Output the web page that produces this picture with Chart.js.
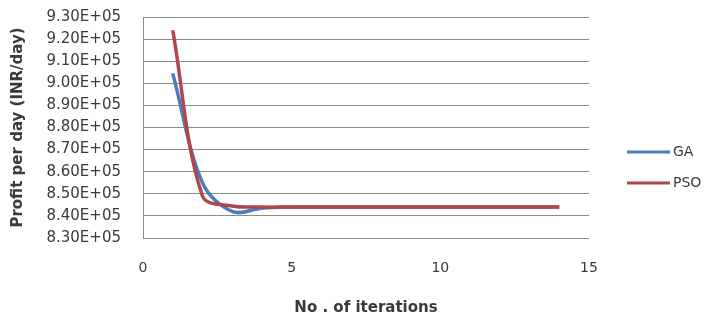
<!DOCTYPE html>
<html>
<head>
<meta charset="utf-8">
<script src="https://cdn.jsdelivr.net/npm/chart.js@4"></script>
<style>
  html, body { margin: 0; padding: 0; background: #fff; }
  #wrap { width: 706px; height: 313px; }
</style>
</head>
<body>
<div id="wrap"><canvas id="chart" width="706" height="313"></canvas></div>
<script>
'use strict';

// valores
const iterations = [1, 2, 3, 4, 5, 6, 7, 8, 9, 10, 11, 12, 13, 14];
const gaProfit = [904500, 855000, 842000, 843500, 844000, 844000, 844000, 844000, 844000, 844000, 844000, 844000, 844000, 844000];
const psoProfit = [924000, 849000, 844500, 844000, 844000, 844000, 844000, 844000, 844000, 844000, 844000, 844000, 844000, 844000];
const seriesNames = ['GA', 'PSO'];
const seriesColors = ['#4A7EBB', '#B0474A'];

const FONT = 'DejaVu Sans';
const TEXT = '#3a3a3a';
const GRID = '#8c8c8c';

const toPoints = vals => iterations.map((x, i) => ({ x: x, y: vals[i] }));

// leyenda a la derecha, dibujada a mano
const sideLegend = {
  id: 'sideLegend',
  afterDraw(chart) {
    const ctx = chart.ctx;
    ctx.save();
    ctx.font = '14px "' + FONT + '"';
    ctx.textBaseline = 'middle';
    seriesNames.forEach((name, i) => {
      const y = 152 + i * 31;
      ctx.strokeStyle = seriesColors[i];
      ctx.lineWidth = 3;
      ctx.beginPath();
      ctx.moveTo(627, y);
      ctx.lineTo(670, y);
      ctx.stroke();
      ctx.fillStyle = TEXT;
      ctx.fillText(name, 673, y);
    });
    ctx.restore();
  }
};

new Chart(document.getElementById('chart'), {
  type: 'line',
  data: {
    datasets: [
      {
        label: seriesNames[0],
        data: toPoints(gaProfit),
        borderColor: seriesColors[0],
        borderWidth: 3.5,
        pointRadius: 0,
        tension: 0.35,
        fill: false,
        order: 1
      },
      {
        label: seriesNames[1],
        data: toPoints(psoProfit),
        borderColor: seriesColors[1],
        borderWidth: 3.5,
        pointRadius: 0,
        tension: 0.35,
        fill: false,
        order: 0
      }
    ]
  },
  options: {
    responsive: false,
    animation: false,
    layout: { padding: { left: 0, right: 117, top: 17, bottom: 0 } },
    plugins: {
      legend: { display: false },
      tooltip: { enabled: false }
    },
    scales: {
      x: {
        type: 'linear',
        min: 0,
        max: 15,
        ticks: {
          stepSize: 5,
          padding: 22,
          color: TEXT,
          font: { family: FONT, size: 14 }
        },
        grid: { display: false, drawTicks: false },
        border: { display: false },
        title: {
          display: true,
          text: 'No . of iterations',
          color: TEXT,
          font: { family: FONT, size: 15, weight: 'bold' },
          padding: { top: 4, bottom: -4 }
        },
        afterFit: s => { s.height = 75; s.paddingLeft = 0; s.paddingRight = 0; }
      },
      y: {
        min: 830000,
        max: 930000,
        ticks: {
          stepSize: 10000,
          autoSkip: false,
          padding: 22,
          color: TEXT,
          font: { family: FONT, size: 15 },
          callback: v => Number(v).toExponential(2).toUpperCase().replace(/E\+(\d)$/, 'E+0$1')
        },
        grid: { color: GRID, lineWidth: 1, drawTicks: false },
        border: { display: true, color: GRID, width: 1 },
        title: {
          display: true,
          text: 'Profit per day (INR/day)',
          color: TEXT,
          font: { family: FONT, size: 15, weight: 'bold' },
          padding: { top: 9, bottom: 0 }
        },
        afterFit: s => { s.width = 143; s.paddingTop = 0; s.paddingBottom = 0; }
      }
    }
  },
  plugins: [sideLegend]
});
</script>
</body>
</html>
